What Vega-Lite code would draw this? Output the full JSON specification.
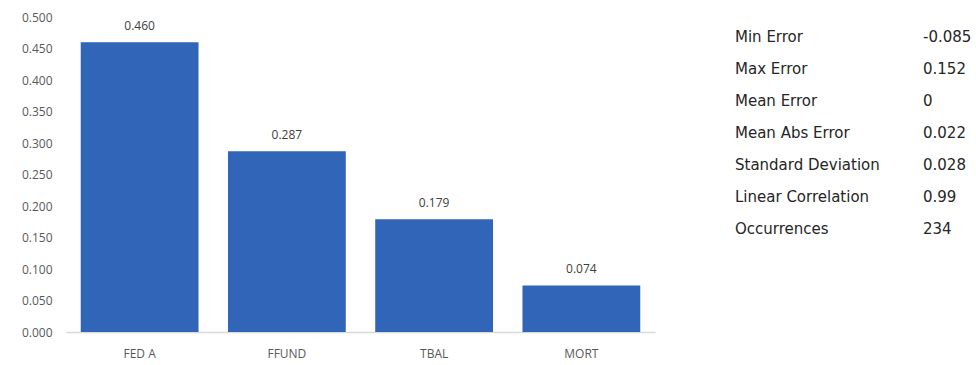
{
  "$schema": "https://vega.github.io/schema/vega-lite/v6.json",
  "padding": {"left": 21, "top": 11, "right": 5, "bottom": 5},
  "bounds": "flush",
  "config": {"view": {"stroke": null}, "concat": {"spacing": 80}, "font": "Open Sans"},
  "hconcat": [
    {
      "width": 589,
      "height": 315,
      "data": {"values": [
        {"series": "FED A", "value": 0.460},
        {"series": "FFUND", "value": 0.287},
        {"series": "TBAL", "value": 0.179},
        {"series": "MORT", "value": 0.074}
      ]},
      "encoding": {
        "x": {"field": "series", "type": "nominal", "sort": null,
          "scale": {"paddingInner": 0.2, "paddingOuter": 0.1},
          "axis": {"title": null, "labelAngle": 0, "ticks": false, "domainColor": "#d9d9d9", "domainWidth": 1.5, "labelColor": "#595959", "labelFontSize": 12, "labelPadding": 16}},
        "y": {"field": "value", "type": "quantitative", "scale": {"domain": [0, 0.5]},
          "axis": {"title": null, "values": [0, 0.05, 0.1, 0.15, 0.2, 0.25, 0.3, 0.35, 0.4, 0.45, 0.5], "format": ".3f", "grid": false, "domain": false, "ticks": false, "tickSize": 0, "labelPadding": 14, "labelColor": "#595959", "labelFontSize": 12}}
      },
      "layer": [
        {"mark": {"type": "bar", "color": "#3065b7"}},
        {"mark": {"type": "text", "baseline": "bottom", "dy": -9, "color": "#404040", "fontSize": 12},
          "encoding": {"text": {"field": "value", "format": ".3f"}}}
      ]
    },
    {
      "width": 188,
      "height": 232,
      "data": {"values": [
        {"row": 1, "label": "Min Error", "value": "-0.085"},
        {"row": 2, "label": "Max Error", "value": "0.152"},
        {"row": 3, "label": "Mean Error", "value": "0"},
        {"row": 4, "label": "Mean Abs Error", "value": "0.022"},
        {"row": 5, "label": "Standard Deviation", "value": "0.028"},
        {"row": 6, "label": "Linear Correlation", "value": "0.99"},
        {"row": 7, "label": "Occurrences", "value": "234"}
      ]},
      "transform": [{"fold": ["label", "value"], "as": ["col", "txt"]}],
      "mark": {"type": "text", "align": "left", "baseline": "middle", "fontSize": 15, "font": "DejaVu Sans", "color": "#262626"},
      "encoding": {
        "x": {"field": "col", "type": "nominal", "scale": {"type": "point", "padding": 0}, "axis": null},
        "y": {"field": "row", "type": "ordinal", "scale": {"type": "point", "padding": 0.625}, "axis": null},
        "text": {"field": "txt"}
      }
    }
  ]
}
